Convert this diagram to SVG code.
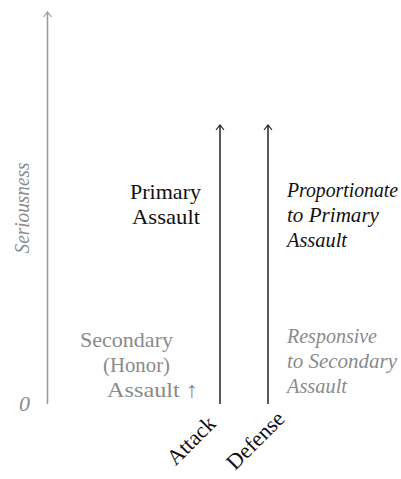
<svg xmlns="http://www.w3.org/2000/svg" width="401" height="479" viewBox="0 0 401 479">
<defs>
<marker id="arrG" viewBox="0 0 10 10" refX="6" refY="5" markerWidth="10" markerHeight="10" markerUnits="userSpaceOnUse" orient="auto">
<path d="M1,1 L6,5 L1,9" fill="none" stroke="#999" stroke-width="1.2"/>
</marker>
<marker id="arrK" viewBox="0 0 10 10" refX="6" refY="5" markerWidth="10" markerHeight="10" markerUnits="userSpaceOnUse" orient="auto">
<path d="M1,1 L6,5 L1,9" fill="none" stroke="#222" stroke-width="1.2"/>
</marker>
</defs>
<rect width="401" height="479" fill="#fff"/>
<g id="connectors">
<line x1="47.5" y1="404" x2="47.5" y2="12" stroke="#999" stroke-width="1.5" marker-end="url(#arrG)"/>
<line x1="220" y1="404" x2="220" y2="125" stroke="#222" stroke-width="1.5" marker-end="url(#arrK)"/>
<line x1="268" y1="404" x2="268" y2="125" stroke="#222" stroke-width="1.5" marker-end="url(#arrK)"/>
</g>
<g id="axis-label" fill="#8a8a8a">
<text style="font-family:'Liberation Serif' !important;font-size:22px;font-style:italic" transform="translate(29,208) rotate(-90)" text-anchor="middle" textLength="91" lengthAdjust="spacingAndGlyphs">Seriousness</text>
<text style="font-family:'Liberation Serif' !important;font-size:22px;font-style:italic" x="19" y="411">0</text>
</g>
<g id="primary" fill="#111">
<text style="font-family:'Liberation Serif' !important;font-size:22px" x="201" y="199" text-anchor="end" textLength="71" lengthAdjust="spacingAndGlyphs">Primary</text>
<text style="font-family:'Liberation Serif' !important;font-size:22px" x="200" y="224" text-anchor="end" textLength="68" lengthAdjust="spacingAndGlyphs">Assault</text>
</g>
<g id="proportionate" fill="#111">
<text style="font-family:'Liberation Serif' !important;font-size:22px;font-style:italic" x="287" y="197" textLength="111" lengthAdjust="spacingAndGlyphs">Proportionate</text>
<text style="font-family:'Liberation Serif' !important;font-size:22px;font-style:italic" x="287" y="222" textLength="92" lengthAdjust="spacingAndGlyphs">to Primary</text>
<text style="font-family:'Liberation Serif' !important;font-size:22px;font-style:italic" x="287" y="247" textLength="60" lengthAdjust="spacingAndGlyphs">Assault</text>
</g>
<g id="secondary" fill="#8a8a8a">
<text style="font-family:'Liberation Serif' !important;font-size:22px" x="80" y="347" textLength="93" lengthAdjust="spacingAndGlyphs">Secondary</text>
<text style="font-family:'Liberation Serif' !important;font-size:22px" x="103" y="372" textLength="67" lengthAdjust="spacingAndGlyphs">(Honor)</text>
<text style="font-family:'Liberation Serif' !important;font-size:22px" x="107" y="397" textLength="91" lengthAdjust="spacingAndGlyphs">Assault ↑</text>
</g>
<g id="responsive" fill="#8a8a8a">
<text style="font-family:'Liberation Serif' !important;font-size:22px;font-style:italic" x="287" y="343" textLength="90" lengthAdjust="spacingAndGlyphs">Responsive</text>
<text style="font-family:'Liberation Serif' !important;font-size:22px;font-style:italic" x="287" y="368" textLength="110" lengthAdjust="spacingAndGlyphs">to Secondary</text>
<text style="font-family:'Liberation Serif' !important;font-size:22px;font-style:italic" x="287" y="393" textLength="60" lengthAdjust="spacingAndGlyphs">Assault</text>
</g>
<g id="attack" fill="#111">
<text style="font-family:'Liberation Serif' !important;font-size:22px" transform="translate(217,425) rotate(-45)" text-anchor="end">Attack</text>
</g>
<g id="defense" fill="#111">
<text style="font-family:'Liberation Serif' !important;font-size:22px" transform="translate(286,420) rotate(-45)" text-anchor="end">Defense</text>
</g>
</svg>
